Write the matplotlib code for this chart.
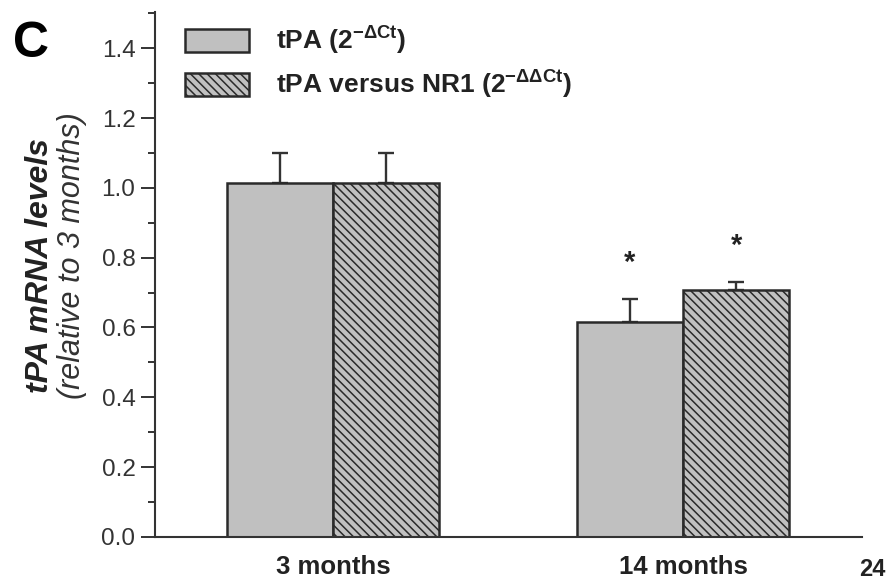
import matplotlib
matplotlib.use('Agg')
from matplotlib import pyplot as plt
from matplotlib.ticker import MultipleLocator, FormatStrFormatter
import numpy as np

# data
groups = ['3 months', '14 months']
series_names = [r'tPA (2$^{\mathbf{-\Delta Ct}}$)', r'tPA versus NR1 (2$^{\mathbf{-\Delta\Delta Ct}}$)']
tpa_dct = [1.013, 0.615]
tpa_dct_err = [0.086, 0.066]
tpa_ddct = [1.013, 0.707]
tpa_ddct_err = [0.086, 0.023]
significant = [[False, True], [False, True]]

plt.rcParams['font.family'] = ['Liberation Sans', 'DejaVu Sans']
plt.rcParams['mathtext.fontset'] = 'custom'
plt.rcParams['mathtext.rm'] = 'Liberation Sans'
plt.rcParams['mathtext.bf'] = 'Liberation Sans:bold'
plt.rcParams['mathtext.it'] = 'Liberation Sans:italic'
plt.rcParams['hatch.color'] = '#404040'
plt.rcParams['hatch.linewidth'] = 1.1

fig = plt.figure(figsize=(8.95, 5.83), dpi=100)
ax = fig.add_axes([0.173, 0.079, 0.790, 0.900])

x = np.arange(len(groups))
width = 0.303
bar_color = '#c0c0c0'
edge = '#2a2a2a'

values = [tpa_dct, tpa_ddct]
errors = [tpa_dct_err, tpa_ddct_err]
hatches = [None, '\\\\\\\\']
offsets = [-width / 2, width / 2]

for i in range(2):
    ax.bar(x + offsets[i], values[i], width, color=bar_color, edgecolor=edge,
           linewidth=1.8, hatch=hatches[i], label=series_names[i], zorder=2)
    ax.errorbar(x + offsets[i], values[i], yerr=[np.zeros(len(groups)), errors[i]],
                fmt='none', ecolor='#333333', elinewidth=1.7, capsize=6, capthick=1.7, zorder=1)
    for j in range(len(groups)):
        if significant[i][j]:
            ax.text(x[j] + offsets[i], values[i][j] + errors[i][j] + 0.105, '*',
                    ha='center', va='center', fontsize=21, fontweight='bold', color='#222222')

ax.set_xlim(-0.509, 1.511)
ax.set_ylim(0, 1.503)
ax.yaxis.set_major_locator(MultipleLocator(0.2))
ax.yaxis.set_minor_locator(MultipleLocator(0.1))
ax.yaxis.set_major_formatter(FormatStrFormatter('%.1f'))
ax.set_xticks(x)
ax.set_xticklabels(groups, fontsize=18.5, fontweight='bold', color='#222222')
ax.tick_params(axis='x', length=0, pad=13)
ax.tick_params(axis='y', which='major', direction='out', length=10, width=1.4,
               labelsize=17.5, colors='#333333', pad=4)
ax.tick_params(axis='y', which='minor', direction='out', length=5, width=1.4, colors='#333333')
ax.spines['top'].set_visible(False)
ax.spines['right'].set_visible(False)
for s in ['left', 'bottom']:
    ax.spines[s].set_linewidth(1.5)
    ax.spines[s].set_color('#333333')

leg = ax.legend(loc='upper left', bbox_to_anchor=(0.042, 0.976), frameon=False,
                prop={'size': 19, 'weight': 'bold'}, handlelength=2.46, handleheight=1.0,
                labelspacing=0.45, handletextpad=1.0, borderaxespad=0, borderpad=0)
for t in leg.get_texts():
    t.set_color('#222222')

fig.text(0.045, 0.545, 'tPA mRNA levels', rotation=90, ha='center', va='center',
         fontsize=23, fontweight='bold', fontstyle='italic', color='#222222')
fig.text(0.080, 0.562, '(relative to 3 months)', rotation=90, ha='center', va='center',
         fontsize=22, fontstyle='italic', color='#333333')
fig.text(0.035, 0.925, 'C', ha='center', va='center', fontsize=36, fontweight='bold')
fig.text(0.975, 0.024, '24', ha='center', va='center', fontsize=17, fontweight='bold', color='#222222')

fig.savefig('out.png', dpi=100)
